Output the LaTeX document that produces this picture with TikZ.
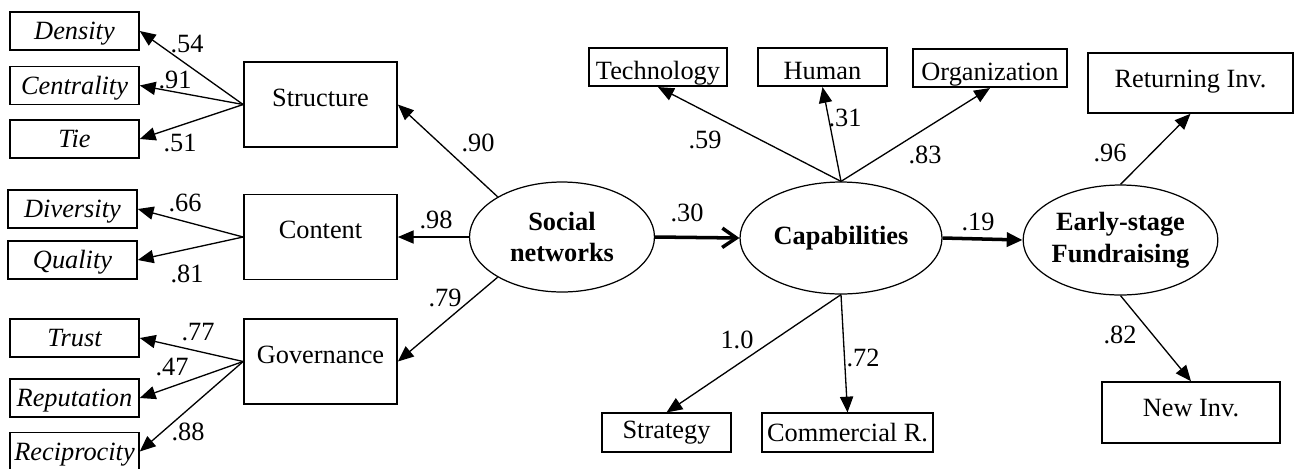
\documentclass[tikz,border=0pt]{standalone}
\usepackage{fontspec}
\setmainfont{Liberation Serif}
\usetikzlibrary{arrows.meta, shapes.geometric}

\begin{document}
\begin{tikzpicture}[%
        x = 0.02cm,
        y = -0.02cm,
        font = \fontsize{15}{18}\selectfont,
        indicator/.style = {%
            draw, line width = 0.9pt, inner sep = 0pt,
            minimum width = 2.58cm, minimum height = 0.76cm,
            text height = 13.3pt, text depth = 3.3pt,
            font = \fontsize{15}{18}\selectfont\itshape
        },
        dimension/.style = {%
            draw, line width = 1pt, inner sep = 0pt,
            minimum width = 3.06cm, minimum height = 1.7cm,
            text depth = 8pt
        },
        measure/.style = {%
            draw, line width = 0.9pt, inner sep = 0pt,
            minimum height = 0.77cm
        },
        low/.style = {%
            text height = 17.5pt, text depth = 3.3pt
        },
        latent/.style = {%
            draw, ellipse, line width = 0.7pt, inner sep = 0pt,
            minimum width = 3.7cm, minimum height = 2.2cm,
            align = center, font = \fontsize{15}{18}\selectfont\bfseries
        },
        load/.style = {%
            line width = 0.75pt,
            -{Triangle[length = 9pt, width = 7.5pt]}
        },
        path/.style = {%
            line width = 2pt
        }
    ]

        \useasboundingbox (0, 0) rectangle (1294, 468);

        % Indicators of the three network dimensions.
        \foreach \name/\txt/\y in {dens/Density/31, cent/Centrality/85.5, tie/Tie/139,
                trust/Trust/338, rep/Reputation/398, recip/Reciprocity/451.5}
            \node[indicator] (\name) at (74.5, \y) {\txt};
        \node[indicator] (div) at (72.5, 209) {Diversity};
        \node[indicator] (qual) at (72.5, 260) {Quality};

        % The dimensions themselves.
        \node[dimension] (struct) at (320.5, 104.5) {Structure};
        \node[dimension] (cont) at (320.5, 237) {Content};
        \node[dimension] (gov) at (320.5, 361.5) {Governance};

        % Latent constructs.
        \node[latent] (soc) at (562, 237) {Social\\networks};
        \node[latent, minimum width = 4.04cm, minimum height = 2.24cm]
            (cap) at (841, 238) {Capabilities};
        \node[latent] (early) at (1120.5, 240) {Early-stage\\Fundraising};

        % Capability and fundraising measures.
        \node[measure, low, minimum width = 2.76cm] (tech) at (658, 67) {Technology};
        \node[measure, low, minimum width = 2.58cm] (hum) at (822.5, 67) {Human};
        \node[measure, low, minimum width = 3.08cm] (org) at (990, 68) {Organization};
        \node[measure, minimum width = 2.58cm] (strat) at (666.5, 432.5) {Strategy};
        \node[measure, minimum width = 3.42cm] (comm) at (847.5, 432.5) {Commercial R.};
        \node[measure, minimum width = 4.1cm, minimum height = 1.2cm, text depth = 5pt]
            (ret) at (1190.5, 83) {Returning Inv.};
        \node[measure, minimum width = 3.56cm, minimum height = 1.22cm, text depth = 5pt]
            (new) at (1191, 412.5) {New Inv.};

        % Loadings of the indicators.
        \foreach \target in {dens, cent, tie}
            \draw[load] (struct.west) to (\target.east);
        \foreach \target in {div, qual}
            \draw[load] (cont.west) to (\target.east);
        \foreach \target in {trust, rep, recip}
            \draw[load] (gov.west) to (\target.east);

        \node (w54) at (187, 44) {.54};
        \node (w91) at (175, 80) {.91};
        \node (w51) at (180, 143) {.51};
        \node (w66) at (185, 203) {.66};
        \node (w81) at (187, 274) {.81};
        \node (w77) at (198, 332) {.77};
        \node (w47) at (172, 367) {.47};
        \node (w88) at (188, 432) {.88};

        % Social networks onto its dimensions.
        \draw[load] (soc.148) to (struct.east);
        \draw[load] (soc.west) to (cont.east);
        \draw[load] (soc.212) to (gov.east);
        \node (w90) at (478, 143) {.90};
        \node (w98) at (436, 220) {.98};
        \node (w79) at (445, 298) {.79};

        % Capabilities onto its measures.
        \draw[load] (cap.north) to (tech.south);
        \draw[load] (cap.north) to (hum.south);
        \draw[load] (cap.north) to (org.south);
        \draw[load] (cap.south) to (strat.north);
        \draw[load] (cap.south) to (comm.north);
        \node (w59) at (705, 140) {.59};
        \node (w31) at (845, 118) {.31};
        \node (w83) at (925, 155) {.83};
        \node (w10) at (737, 340) {1.0};
        \node (w72) at (863, 358) {.72};

        % Fundraising onto its measures.
        \draw[load] (early.north) to (ret.south);
        \draw[load] (early.south) to (new.north);
        \node (w96) at (1110, 153) {.96};
        \node (w82) at (1120, 335) {.82};

        % Structural paths.
        \draw[path, -{Straight Barb[length = 8pt, width = 11pt]}] (soc.east) to (cap.west);
        \draw[path, -{Triangle[length = 9pt, width = 8pt]}] (cap.east) to (early.west);
        \node (w30) at (687, 213) {.30};
        \node (w19) at (978, 222) {.19};
    \end{tikzpicture}
\end{document}
